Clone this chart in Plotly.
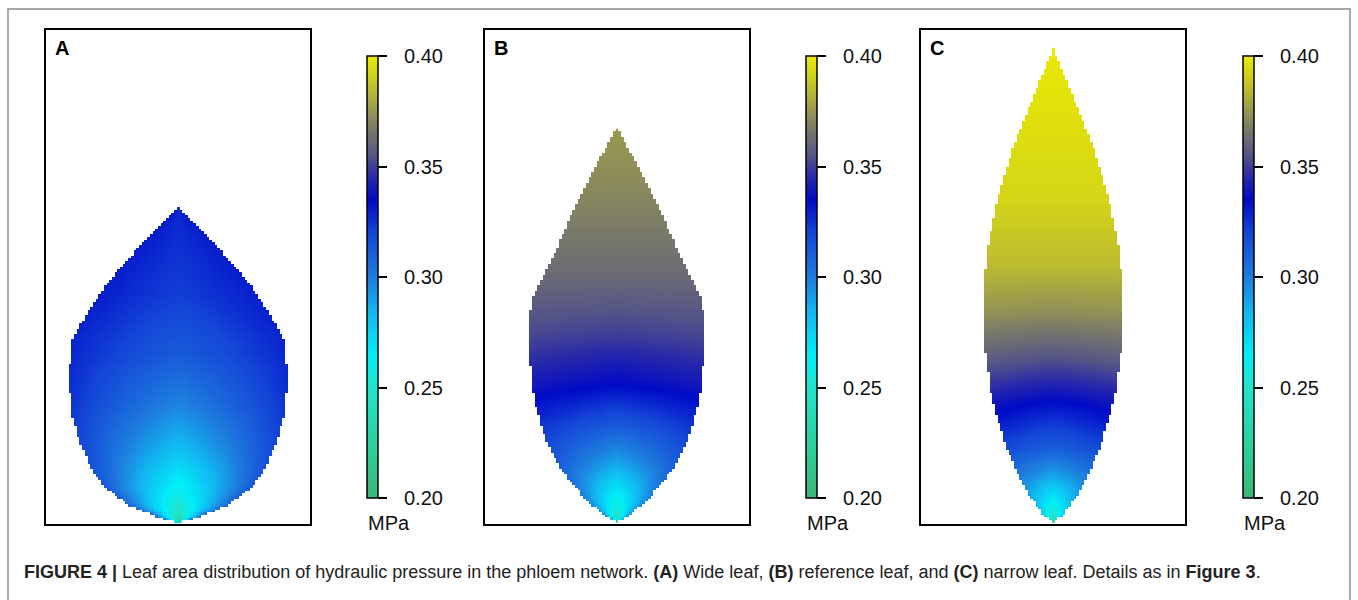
import numpy as np
import plotly.graph_objects as go

W, H = 1358, 600

# ---- colour scale (MPa) ----
scale_p = [0.20, 0.22, 0.25, 0.265, 0.285, 0.30, 0.32, 0.335, 0.345, 0.355, 0.37, 0.385, 0.40]
scale_rgb = ["rgb(60,182,118)", "rgb(45,205,150)", "rgb(32,228,205)", "rgb(0,238,248)",
             "rgb(18,180,240)", "rgb(30,125,222)", "rgb(20,70,215)", "rgb(0,10,200)",
             "rgb(40,40,170)", "rgb(85,85,135)", "rgb(132,132,98)", "rgb(188,188,48)",
             "rgb(236,236,0)"]
p_min, p_max = 0.20, 0.40
tick_vals = [0.20, 0.25, 0.30, 0.35, 0.40]
tick_text = ["0.20", "0.25", "0.30", "0.35", "0.40"]

# ---- (A) wide leaf: outline (height above base, half width) ----
a_height = [2, 8, 20, 38, 55, 85, 115, 150, 185, 217, 237, 257, 277, 297, 317]
a_halfwidth = [0, 20, 50, 74, 86, 99, 107, 109, 106, 88, 74, 58, 40, 20, 0]
a_p_height = [2, 10, 25, 45, 80, 120, 170, 230, 317]
a_p_midrib = [0.225, 0.243, 0.256, 0.266, 0.283, 0.298, 0.312, 0.322, 0.328]
a_p_margin = [0.300, 0.305, 0.310, 0.315, 0.320, 0.325, 0.328, 0.330, 0.331]

# ---- (B) reference leaf ----
b_height = [2, 10, 25, 55, 85, 125, 175, 225, 275, 325, 365, 397]
b_halfwidth = [0, 13, 31, 56, 71, 83, 88, 86, 61, 39, 18, 0]
b_p_height = [2, 15, 35, 60, 100, 140, 190, 250, 320, 397]
b_p_midrib = [0.235, 0.253, 0.268, 0.288, 0.313, 0.335, 0.350, 0.362, 0.370, 0.376]
b_p_margin = [0.290, 0.295, 0.302, 0.312, 0.325, 0.340, 0.352, 0.362, 0.370, 0.376]

# ---- (C) narrow leaf ----
c_height = [2, 10, 35, 75, 125, 175, 225, 275, 325, 375, 425, 477]
c_halfwidth = [0, 10, 28, 46, 61, 68, 70, 66, 56, 41, 21, 0]
c_p_height = [2, 15, 30, 50, 75, 105, 140, 170, 210, 260, 330, 477]
c_p_midrib = [0.235, 0.255, 0.270, 0.290, 0.310, 0.325, 0.343, 0.356, 0.372, 0.385, 0.393, 0.399]
c_p_margin = [0.270, 0.280, 0.290, 0.302, 0.318, 0.332, 0.347, 0.359, 0.373, 0.385, 0.393, 0.399]

panel_names = ["A", "B", "C"]
panel_left = [45, 484, 920]
panel_top, panel_bottom = 29, 525
panel_w = 266
cbar_left = [367, 806, 1243]
cbar_top, cbar_bottom = 56, 498
label_font = dict(family="Liberation Sans, Arial, sans-serif", size=20, color="#111")

cell = 2.7


def leaf_field(hk, wk, phk, pmid, pedge):
    tip = hk[-1]
    nx = int(np.ceil(max(wk) / cell)) + 1
    xs = np.arange(-nx, nx + 1) * cell
    ys = np.arange(hk[0] + cell / 2, tip, cell)
    X, Y = np.meshgrid(xs, ys)
    half = np.interp(Y, hk, wk)
    mid = np.interp(Y, phk, pmid)
    edge = np.interp(Y, phk, pedge)
    r = np.clip(np.abs(X) / np.maximum(half, 1e-6), 0, 1)
    Z = mid + (edge - mid) * r ** 1.2
    Z = np.where(np.abs(X) <= half, Z, np.nan)
    return xs + panel_w / 2, ys, Z


leaves = [
    (a_height, a_halfwidth, a_p_height, a_p_midrib, a_p_margin),
    (b_height, b_halfwidth, b_p_height, b_p_midrib, b_p_margin),
    (c_height, c_halfwidth, c_p_height, c_p_midrib, c_p_margin),
]

colorscale = [[(p - p_min) / (p_max - p_min), c] for p, c in zip(scale_p, scale_rgb)]

fig = go.Figure()
shapes = []
annotations = []

for i, name in enumerate(panel_names):
    xs, ys, Z = leaf_field(*leaves[i])
    ax = "" if i == 0 else str(i + 1)
    fig.add_trace(go.Heatmap(
        x=xs, y=ys, z=Z,
        xaxis="x" + ax, yaxis="y" + ax,
        colorscale=colorscale, zmin=p_min, zmax=p_max,
        hoverongaps=False,
        colorbar=dict(
            x=cbar_left[i] / W, xanchor="left",
            y=1 - cbar_top / H, yanchor="top",
            len=cbar_bottom - cbar_top, lenmode="pixels",
            thickness=11, thicknessmode="pixels",
            xpad=0, ypad=0,
            outlinewidth=1.5, outlinecolor="black",
            ticks="outside", ticklen=9, tickwidth=1.5, tickcolor="black",
            tickvals=tick_vals, showticklabels=False,
        ),
    ))
    # tick labels of the colour bar, set a little away from the ticks
    for v, t in zip(tick_vals, tick_text):
        ypx = cbar_bottom - (v - p_min) / (p_max - p_min) * (cbar_bottom - cbar_top)
        annotations.append(dict(
            text=t, xref="paper", yref="paper",
            x=(cbar_left[i] + 35) / W, y=1 - ypx / H,
            xanchor="left", yanchor="middle", showarrow=False, font=label_font))
    x0 = panel_left[i] / W
    x1 = (panel_left[i] + panel_w) / W
    y0 = 1 - panel_bottom / H
    y1 = 1 - panel_top / H
    fig.update_layout(**{
        "xaxis" + ax: dict(domain=[x0, x1], range=[0, panel_w], visible=False,
                           fixedrange=True),
        "yaxis" + ax: dict(domain=[y0, y1], range=[0, panel_bottom - panel_top],
                           visible=False, fixedrange=True),
    })
    shapes.append(dict(type="rect", xref="paper", yref="paper",
                       x0=x0, x1=x1, y0=y0, y1=y1,
                       line=dict(color="black", width=2)))
    annotations.append(dict(
        text="<b>%s</b>" % name, xref="paper", yref="paper",
        x=(panel_left[i] + 8) / W, y=1 - 48 / H, xanchor="left", yanchor="middle",
        showarrow=False, font=dict(family="Liberation Sans, Arial, sans-serif",
                                   size=20, color="black")))
    annotations.append(dict(
        text="MPa", xref="paper", yref="paper",
        x=(cbar_left[i] - 1) / W, y=1 - 523 / H, xanchor="left", yanchor="middle",
        showarrow=False, font=label_font))

# outer frame of the figure
shapes.append(dict(type="rect", xref="paper", yref="paper",
                   x0=8 / W, x1=1350 / W, y0=-0.1, y1=1 - 9 / H,
                   line=dict(color="rgb(140,140,140)", width=1.5)))

annotations.append(dict(
    text="<b>FIGURE 4 |</b> Leaf area distribution of hydraulic pressure in the phloem network. "
         "<b>(A)</b> Wide leaf, <b>(B)</b> reference leaf, and <b>(C)</b> narrow leaf. "
         "Details as in <b>Figure 3</b>.",
    xref="paper", yref="paper", x=22 / W, y=1 - 572 / H,
    xanchor="left", yanchor="middle", showarrow=False,
    font=dict(family="Liberation Sans Narrow, Arial Narrow, sans-serif", size=18,
              color="#222")))

fig.update_layout(
    width=W, height=H,
    margin=dict(l=0, r=0, t=0, b=0),
    paper_bgcolor="white", plot_bgcolor="white",
    showlegend=False,
    shapes=shapes, annotations=annotations,
)

fig.write_html("out.html")
